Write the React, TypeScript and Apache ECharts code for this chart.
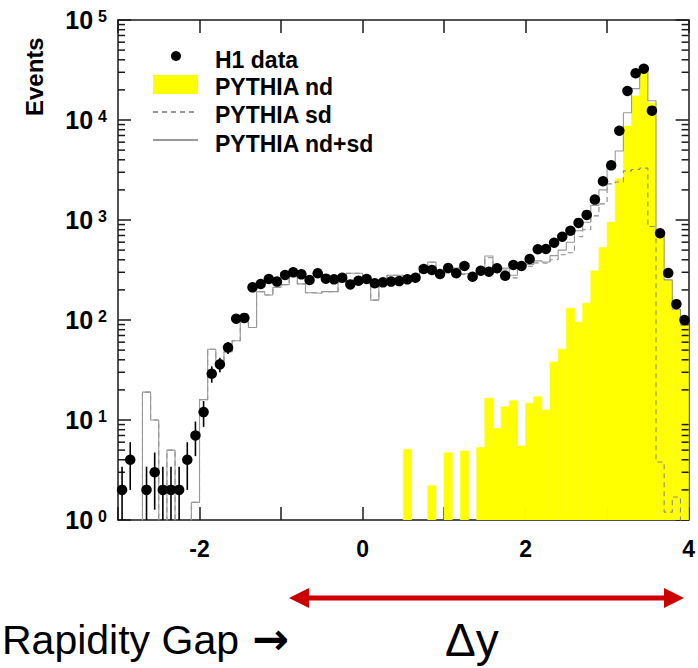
import React, { useEffect, useRef } from "react";
import * as echarts from "echarts";

// ---- data ----
const binCenters = [
  -2.95, -2.85, -2.75, -2.65, -2.55, -2.45, -2.35, -2.25, -2.15, -2.05,
  -1.95, -1.85, -1.75, -1.65, -1.55, -1.45, -1.35, -1.25, -1.15, -1.05,
  -0.95, -0.85, -0.75, -0.65, -0.55, -0.45, -0.35, -0.25, -0.15, -0.05,
  0.05, 0.15, 0.25, 0.35, 0.45, 0.55, 0.65, 0.75, 0.85, 0.95,
  1.05, 1.15, 1.25, 1.35, 1.45, 1.55, 1.65, 1.75, 1.85, 1.95,
  2.05, 2.15, 2.25, 2.35, 2.45, 2.55, 2.65, 2.75, 2.85, 2.95,
  3.05, 3.15, 3.25, 3.35, 3.45, 3.55, 3.65, 3.75, 3.85, 3.95,
];
const binWidth = 0.1;

const h1Data = [
  2, 4, null, 2, 3, 2, 2, 2, 4, 7,
  12, 29, 36, 53, 103, 105, 212, 229, 257, 242,
  282, 300, 286, 251, 293, 259, 255, 265, 227, 247,
  257, 233, 238, 242, 245, 255, 265, 324, 316, 288,
  331, 293, 347, 271, 311, 304, 329, 277, 355, 347,
  407, 509, 513, 593, 681, 782, 935, 1125, 1600, 2440,
  3520, 7820, 19500, 29300, 32600, 12400, 736, 295, 144, 100,
];

const pythiaNd = [
  0, 0, 0, 0, 0, 0, 0, 0, 0, 0,
  0, 0, 0, 0, 0, 0, 0, 0, 0, 0,
  0, 0, 0, 0, 0, 0, 0, 0, 0, 0,
  0, 0, 0, 0, 0, 5.1, 0, 0, 2.2, 0,
  4.7, 0, 4.9, 0, 5.3, 16.5, 8.2, 13.6, 15.6, 5.5,
  14.7, 17.1, 12.6, 38, 51, 131, 95, 147, 310, 530,
  950, 2580, 8700, 17400, 31000, 14800, 740, 251, 126, 89,
];

const pythiaSd = [
  0, 0, 0, 19, 10, 0, 5, 0, 0, 1.5,
  16, 51, 38, 48, 62, 96, 84, 192, 178, 212,
  226, 271, 230, 187, 185, 192, 192, 240, 293, 293,
  275, 158, 250, 280, 280, 240, 280, 335, 378, 290,
  295, 330, 285, 255, 295, 420, 322, 316, 264, 324,
  345, 373, 367, 400, 450, 470, 680, 800, 1100, 1450,
  2300, 2400, 3100, 3200, 3300, 860, 3.8, 1.2, 1.7, 0,
];

const pythiaTotal = [
  0, 0, 0, 19, 10, 0, 5, 0, 0, 1.5,
  16, 51, 38, 48, 62, 96, 84, 192, 178, 212,
  226, 271, 230, 187, 185, 192, 192, 240, 293, 293,
  275, 158, 250, 280, 280, 245, 280, 335, 380, 290,
  300, 330, 290, 255, 300, 437, 330, 330, 280, 330,
  360, 390, 380, 440, 500, 600, 780, 950, 1400, 2000,
  3250, 4900, 11800, 20600, 34400, 15600, 745, 252, 128, 89,
];

const xTickLabels = ["-2", "0", "2", "4"];
const legendLabels = ["H1 data", "PYTHIA nd", "PYTHIA sd", "PYTHIA nd+sd"];
const bottomLabel = "Rapidity Gap";
const arrowGlyph = "\u2192";
const deltaLabel = "\u0394y";
const yTitle = "Events";

const FONT = "Liberation Sans";

function steps(vals: number[]) {
  const pts: number[][] = [];
  binCenters.forEach((c, i) => {
    const v = vals[i] > 0 ? vals[i] : 0.2;
    pts.push([c - binWidth / 2, v], [c + binWidth / 2, v]);
  });
  return pts;
}

function minorTickValues() {
  const out: number[] = [];
  for (let d = 1; d < 100000; d *= 10) {
    for (let m = 2; m <= 9; m++) out.push(m * d);
  }
  return out;
}

function txt(text: string, x: number, y: number, size: number, weight: string, extra: any = {}) {
  return {
    type: "text",
    x,
    y,
    ...extra,
    style: {
      text,
      fontFamily: FONT,
      fontSize: size,
      fontWeight: weight,
      fill: "#000",
      align: "left",
      verticalAlign: "middle",
      ...(extra.style || {}),
    },
  };
}

export default function App() {
  const ref = useRef<HTMLDivElement>(null);
  useEffect(() => {
    document.body.style.margin = "0";
    const chart = echarts.init(ref.current!, null, { renderer: "svg" });
    const axisLineStyle = { color: "#1a1a1a", width: 1.5 };
    const option: any = {
      animation: false,
      backgroundColor: "#ffffff",
      grid: { left: 118, top: 20, width: 573, height: 500, containLabel: false },
      xAxis: [
        {
          type: "value",
          min: -3,
          max: 4,
          interval: 1,
          position: "bottom",
          axisLine: { show: true, onZero: false, lineStyle: axisLineStyle },
          axisTick: { show: true, inside: true, length: 13, lineStyle: axisLineStyle },
          splitLine: { show: false },
          axisLabel: {
            show: true,
            margin: 17,
            color: "#000",
            fontFamily: FONT,
            fontWeight: "bold",
            fontSize: 23,
            formatter: (v: number) => {
              const s = String(Math.round(v));
              return xTickLabels.includes(s) ? s : "";
            },
          },
        },
        {
          type: "value",
          min: -3,
          max: 4,
          interval: 1,
          position: "top",
          axisLine: { show: true, onZero: false, lineStyle: axisLineStyle },
          axisTick: { show: true, inside: true, length: 13, lineStyle: axisLineStyle },
          splitLine: { show: false },
          axisLabel: { show: false },
        },
      ],
      yAxis: [
        {
          type: "log",
          logBase: 10,
          min: 1,
          max: 100000,
          position: "left",
          axisLine: { show: true, onZero: false, lineStyle: axisLineStyle },
          axisTick: { show: true, inside: true, length: 13, lineStyle: axisLineStyle },
          splitLine: { show: false },
          axisLabel: {
            show: true,
            margin: 11,
            color: "#000",
            formatter: (v: number) => `{b|10}{e|${Math.round(Math.log10(v))}}`,
            rich: {
              b: { fontFamily: FONT, fontWeight: "bold", fontSize: 25, lineHeight: 24, verticalAlign: "bottom", color: "#000" },
              e: { fontFamily: FONT, fontWeight: "bold", fontSize: 16, lineHeight: 16, verticalAlign: "top", padding: [0, 0, 16, 5], color: "#000" },
            },
          },
        },
        {
          type: "log",
          logBase: 10,
          min: 1,
          max: 100000,
          position: "right",
          axisLine: { show: true, onZero: false, lineStyle: axisLineStyle },
          axisTick: { show: true, inside: true, length: 13, lineStyle: axisLineStyle },
          splitLine: { show: false },
          axisLabel: { show: false },
        },
      ],
      series: [
        {
          name: "PYTHIA nd",
          type: "custom",
          clip: true,
          z: 1,
          data: binCenters.map((c, i) => [c, pythiaNd[i]]).filter((d) => d[1] > 0),
          renderItem: (params: any, api: any) => {
            const c = api.value(0);
            const v = api.value(1);
            const p0 = api.coord([c - binWidth / 2, v]);
            const p1 = api.coord([c + binWidth / 2, 1]);
            return {
              type: "rect",
              shape: { x: p0[0], y: p0[1], width: p1[0] - p0[0], height: p1[1] - p0[1] },
              style: { fill: "#ffff00", stroke: "#ffff00", lineWidth: 0.6 },
            };
          },
        },
        {
          name: "PYTHIA sd",
          type: "line",
          z: 2,
          clip: true,
          symbol: "none",
          data: steps(pythiaSd),
          lineStyle: { color: "#8a8a8a", width: 1.1, type: [5, 4] },
        },
        {
          name: "PYTHIA nd+sd",
          type: "line",
          z: 3,
          clip: true,
          symbol: "none",
          data: steps(pythiaTotal),
          lineStyle: { color: "#999999", width: 1.1 },
        },
        {
          name: "minor ticks",
          type: "custom",
          silent: true,
          z: 4,
          data: minorTickValues().map((v) => [0, v]),
          renderItem: (params: any, api: any) => {
            const v = api.value(1);
            const l = api.coord([-3, v]);
            const r = api.coord([4, v]);
            return {
              type: "group",
              children: [
                { type: "line", shape: { x1: l[0], y1: l[1], x2: l[0] + 7, y2: l[1] }, style: { stroke: "#1a1a1a", lineWidth: 1.5 } },
                { type: "line", shape: { x1: r[0] - 7, y1: r[1], x2: r[0], y2: r[1] }, style: { stroke: "#1a1a1a", lineWidth: 1.5 } },
              ],
            };
          },
        },
        {
          name: "errors",
          type: "custom",
          clip: true,
          z: 5,
          data: binCenters
            .map((c, i) => [c, h1Data[i]])
            .filter((d) => d[1] != null)
            .map((d) => [d[0], d[1] as number, Math.sqrt(d[1] as number)]),
          renderItem: (params: any, api: any) => {
            const c = api.value(0);
            const v = api.value(1);
            const e = api.value(2);
            const lo = v - e > 0.05 ? v - e : 0.05;
            const p0 = api.coord([c, lo]);
            const p1 = api.coord([c, v + e]);
            return {
              type: "line",
              shape: { x1: p0[0], y1: p0[1], x2: p1[0], y2: p1[1] },
              style: { stroke: "#000", lineWidth: 1.6 },
            };
          },
        },
        {
          name: "H1 data",
          type: "scatter",
          z: 6,
          symbol: "circle",
          symbolSize: 10.5,
          itemStyle: { color: "#000", opacity: 1 },
          data: binCenters.map((c, i) => [c, h1Data[i]]).filter((d) => d[1] != null),
        },
      ],
      graphic: [
        { type: "circle", shape: { cx: 176, cy: 56, r: 5 }, style: { fill: "#000" } },
        { type: "rect", shape: { x: 153, y: 75, width: 45, height: 19 }, style: { fill: "#ffff00" } },
        { type: "line", shape: { x1: 153, y1: 112, x2: 198, y2: 112 }, style: { stroke: "#333", lineWidth: 1, lineDash: [5, 4] } },
        { type: "line", shape: { x1: 153, y1: 140, x2: 198, y2: 140 }, style: { stroke: "#333", lineWidth: 1 } },
        ...legendLabels.map((t, i) => txt(t, 215, [60, 87, 115, 144][i], 23, "bold")),
        {
          type: "group",
          x: 34,
          y: 116,
          rotation: Math.PI / 2,
          children: [
            {
              type: "text",
              x: 0,
              y: 0,
              style: {
                text: yTitle,
                fontFamily: FONT,
                fontSize: 24,
                fontWeight: "bold",
                fill: "#000",
                align: "left",
                verticalAlign: "middle",
              },
            },
          ],
        },
        { type: "line", shape: { x1: 302, y1: 598, x2: 671, y2: 598 }, style: { stroke: "#cc0000", lineWidth: 5 } },
        { type: "polygon", shape: { points: [[289, 598], [309, 588], [309, 608]] }, style: { fill: "#cc0000" } },
        { type: "polygon", shape: { points: [[684, 598], [664, 588], [664, 608]] }, style: { fill: "#cc0000" } },
        txt(bottomLabel, 2, 640, 41, "normal"),
        txt(arrowGlyph, 252, 638, 44, "bold", { style: { fontFamily: "DejaVu Sans" } }),
        txt(deltaLabel, 445, 640, 46, "normal"),
      ],
    };
    chart.setOption(option);
    return () => chart.dispose();
  }, []);
  return (
    <div
      ref={ref}
      style={{ position: "absolute", left: 0, top: 0, width: 698, height: 668, background: "#fff" }}
    />
  );
}
